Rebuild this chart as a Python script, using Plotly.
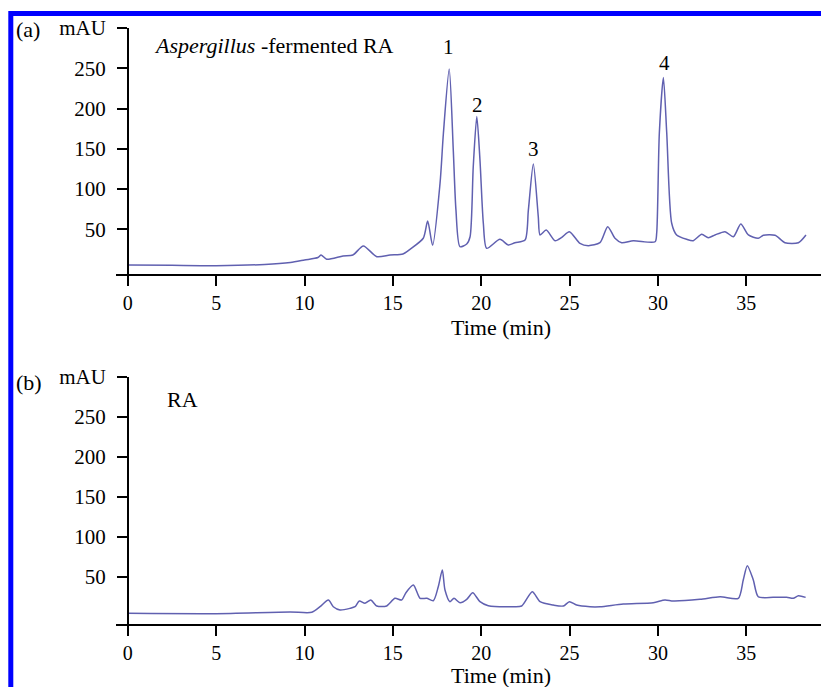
import plotly.graph_objects as go

# ---------------- data ----------------
time_a = [0, 2.5, 5.0, 7.75, 9.2, 10.0, 10.76, 10.94, 11.25, 12.18, 12.74, 13.33, 14.09, 14.84,
          15.57, 15.97, 16.72, 16.97, 17.25, 17.67, 17.86, 18.19, 18.42, 18.57, 18.80, 19.18,
          19.37, 19.55, 19.75, 19.93, 20.12, 20.31, 21.06, 21.53, 21.91, 22.48, 22.67, 22.95,
          23.23, 23.33, 23.68, 24.18, 24.56, 24.99, 25.59, 26.06, 26.72, 27.16, 27.57, 27.95,
          28.61, 29.84, 29.93, 30.08, 30.31, 30.5, 30.78, 31.06, 31.63, 32.0, 32.48, 32.85,
          33.23, 33.8, 34.27, 34.69, 35.12, 35.68, 35.97, 36.63, 37.19, 37.95, 38.38]
mau_a = [5.6, 5.2, 4.8, 6.2, 8.7, 11.8, 14.9, 18, 12.7, 16.8, 18, 29.2, 15.9, 18,
         19.3, 25.1, 38.8, 60.2, 30, 107, 169, 249, 148, 74, 28.3, 31.7,
         40.7, 127.7, 190, 136, 57.4, 26.3, 37.5, 30.4, 33.3, 36.6, 74, 131,
         65.6, 42.9, 49, 35.8, 40, 47, 32.5, 29.6, 33.3, 53.2, 38.8, 33.3,
         35.8, 34.5, 45, 169, 238.5, 169.5, 57.4, 42.9, 37.5, 35.8, 43.7, 39.5,
         42.9, 47, 40.7, 56.5, 42.9, 38.8, 42.5, 42.5, 33.3, 33.3, 42.9]

time_b = [0, 4.99, 9.18, 10.41, 10.88, 11.35, 11.63, 12.01, 12.58, 12.86, 13.10, 13.42, 13.75,
          14.09, 14.65, 15.12, 15.50, 15.74, 16.16, 16.54, 16.92, 17.29, 17.57, 17.80, 17.95,
          18.23, 18.46, 18.80, 19.18, 19.52, 19.93, 20.40, 21.82, 22.29, 22.89, 23.33, 24.08,
          24.65, 24.99, 25.40, 26.16, 26.73, 28.04, 29.74, 30.40, 30.87, 32.38, 33.52, 34.55,
          34.83, 35.06, 35.40, 35.68, 36.53, 37.29, 37.66, 37.95, 38.36]
mau_b = [4.2, 3.8, 5.9, 5.5, 12.5, 20.9, 12.5, 8.4, 10.5, 12.5, 19.6, 16.7, 20.9,
         13.4, 13.4, 23, 20.9, 30, 39.6, 23, 23, 20, 37.5, 58.4, 33.4,
         18.8, 23, 17.5, 21.7, 30, 18.8, 13.8, 12.5, 13.4, 31.3, 18.8, 14.6,
         13.4, 18.8, 14.6, 12.5, 12.5, 15.9, 17.5, 20.9, 19.6, 21.7, 25, 23,
         45.9, 63.8, 45.9, 25, 24.2, 24.2, 23, 26.2, 24.2]

x_ticks = [0, 5, 10, 15, 20, 25, 30, 35]
y_ticks = [50, 100, 150, 200, 250, 300]
y_ticktext = ["50", "100", "150", "200", "250", "mAU"]

peak_labels = ["1", "2", "3", "4"]
peak_times = [18.15, 19.8, 22.95, 30.35]
peak_label_y = [277, 204, 150, 256]

# ---------------- layout helpers (pixel -> paper) ----------------
W, H = 821, 687
L = 116
PW = W - L


def pxx(p):
    return (p - L) / PW


def pxy(p):
    return 1 - p / H


FONT = "Liberation Serif"
LINE_COLOR = "#6060b0"

fig = go.Figure()
fig.add_trace(go.Scatter(x=time_a, y=mau_a, mode="lines", xaxis="x", yaxis="y",
                         line=dict(color=LINE_COLOR, width=1.5, shape="spline", smoothing=0.7),
                         hoverinfo="skip"))
fig.add_trace(go.Scatter(x=time_b, y=mau_b, mode="lines", xaxis="x2", yaxis="y2",
                         line=dict(color=LINE_COLOR, width=1.5, shape="spline", smoothing=0.7),
                         hoverinfo="skip"))

xcommon = dict(range=[-0.668, 39.23], domain=[0, 1], showline=True, linecolor="black",
               linewidth=2, ticks="outside", ticklen=10, tickwidth=2, tickcolor="black",
               tickvals=x_ticks, tickfont=dict(family=FONT, size=20, color="black"),
               showgrid=False, zeroline=False, automargin=False)
ycommon = dict(anchor="free", position=pxx(128), showline=True, linecolor="black",
               linewidth=2, ticks="outside", ticklen=10, tickwidth=2, tickcolor="black",
               tickvals=y_ticks, ticktext=y_ticktext, ticklabelstandoff=7,
               tickfont=dict(family=FONT, size=21, color="black"),
               showgrid=False, zeroline=False, automargin=False)

fig.update_layout(
    width=W, height=H,
    margin=dict(l=L, r=0, t=0, b=0, pad=0),
    paper_bgcolor="white", plot_bgcolor="white",
    showlegend=False,
    xaxis=dict(anchor="y", **xcommon),
    yaxis=dict(domain=[pxy(274), pxy(28)], range=[-5.6, 300], **ycommon),
    xaxis2=dict(anchor="y2", **xcommon),
    yaxis2=dict(domain=[pxy(624), pxy(376.7)], range=[-9.1, 300], **ycommon),
)

ann = []
fnt = dict(family=FONT, size=22, color="black")
ann.append(dict(text="(a)", x=pxx(28), y=pxy(30), xref="paper", yref="paper",
                showarrow=False, font=fnt, xanchor="center", yanchor="middle"))
ann.append(dict(text="(b)", x=pxx(29), y=pxy(382), xref="paper", yref="paper",
                showarrow=False, font=fnt, xanchor="center", yanchor="middle"))
ann.append(dict(text="<i>Aspergillus</i> -fermented RA", x=pxx(152), y=pxy(45),
                xref="paper", yref="paper", showarrow=False, font=fnt,
                xanchor="left", yanchor="middle"))
ann.append(dict(text="RA", x=pxx(165), y=pxy(400), xref="paper", yref="paper",
                showarrow=False, font=fnt, xanchor="left", yanchor="middle"))
ann.append(dict(text="Time (min)", x=pxx(501), y=pxy(328), xref="paper", yref="paper",
                showarrow=False, font=fnt, xanchor="center", yanchor="middle"))
ann.append(dict(text="Time (min)", x=pxx(501), y=pxy(675), xref="paper", yref="paper",
                showarrow=False, font=fnt, xanchor="center", yanchor="middle"))
for lab, t, v in zip(peak_labels, peak_times, peak_label_y):
    ann.append(dict(text=lab, x=t, y=v, xref="x", yref="y", showarrow=False,
                    font=dict(family=FONT, size=21, color="black"),
                    xanchor="center", yanchor="middle"))
fig.update_layout(annotations=ann)

# blue frame (left and top edges)
fig.add_shape(type="rect", xref="paper", yref="paper",
              x0=pxx(10.8), x1=pxx(840), y0=pxy(720), y1=pxy(13.5),
              line=dict(color="#0000ff", width=5), fillcolor="rgba(0,0,0,0)", layer="above")

fig.write_html("out.html", config={"displayModeBar": False},
               post_script="document.body.style.margin='0';")
